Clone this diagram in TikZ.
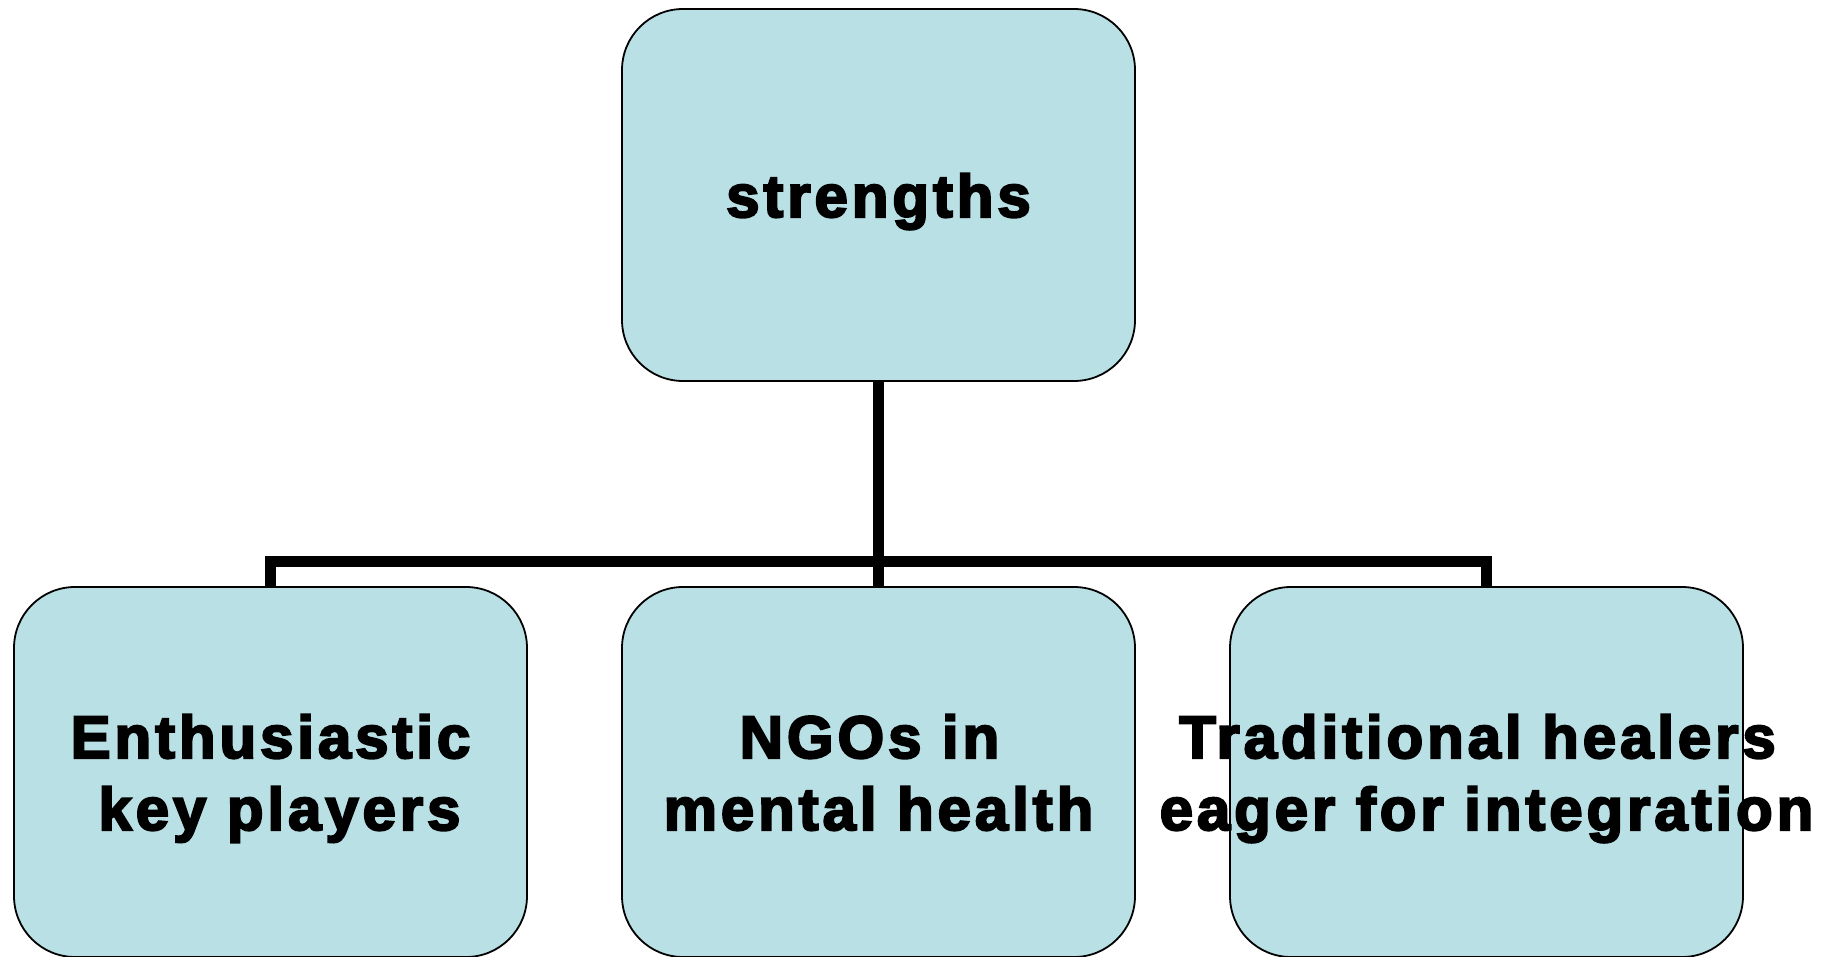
\documentclass[tikz,border=0pt]{standalone}
\usepackage{fontspec}
\setmainfont{Liberation Sans}
\newfontfamily\boxfont[FakeBold=3.5,LetterSpace=6.5]{Liberation Sans Bold}
\definecolor{boxfill}{RGB}{185,224,228}
\begin{document}
\begin{tikzpicture}[x=1pt,y=-1pt,
  orgbox/.style={draw=black, line width=1.8pt, fill=boxfill, rounded corners=61pt,
    minimum width=513pt, minimum height=372pt, inner sep=0pt},
  orgtext/.style={align=center, font=\boxfont\fontsize{60}{72}\selectfont, inner sep=0pt},
  link/.style={draw=black, line width=11pt, line join=miter}]
\useasboundingbox (0,0) rectangle (1838,957);
\node[orgbox] (root) at (878.5,195) {};
\node[orgbox, minimum height=370pt] (b1) at (270.5,772) {};
\node[orgbox, minimum height=370pt] (b2) at (878.5,772) {};
\node[orgbox, minimum height=370pt] (b3) at (1486.5,772) {};
\coordinate (bus) at (878.5,561);
\draw[link] (root.south) -- (bus);
\draw[link] (bus) -| (b1.north);
\draw[link] (bus) -| (b3.north);
\draw[link] (bus) -- (b2.north);
\node[orgtext] (t0) at ([yshift=-7.6pt]root.center) {\strut strengths};
\node[orgtext] (t1) at ([yshift=-7.6pt]b1.center) {\strut Enthusiastic\\\hspace*{18pt}key players\strut};
\node[orgtext] (t2) at ([yshift=-7.6pt]b2.center) {\strut NGOs in\hspace*{18pt}\\mental health\strut};
\node[orgtext] (t3) at ([yshift=-7.6pt]b3.center) {\strut Traditional healers\hspace*{18pt}\\eager for integration\strut};
\end{tikzpicture}
\end{document}
